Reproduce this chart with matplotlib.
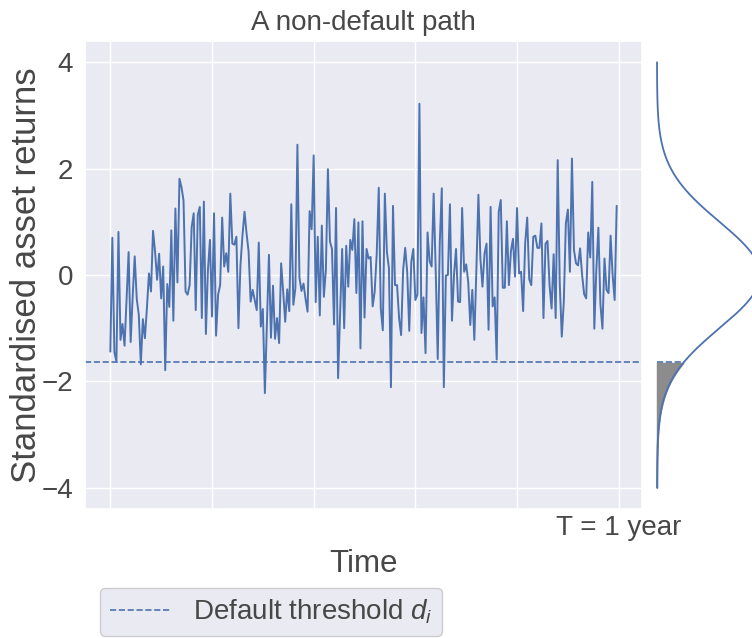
import numpy as np
import matplotlib
matplotlib.use("Agg")
import matplotlib.pyplot as plt
import seaborn as sns

# ---- data ----
returns = [
    -1.44, 0.70, -1.45, -1.63, 0.81, -1.22, -0.92, -1.33, -0.45, 0.43,
    -1.26, -0.40, 0.35, -0.45, -0.75, -1.68, -0.83, -1.19, -0.62, 0.03,
    -0.31, 0.83, 0.44, -0.09, 0.40, -0.44, 0.16, -1.79, -0.17, -0.60,
    0.84, -0.86, 1.25, -0.14, 1.81, 1.65, 1.40, -0.31, -0.37, -0.19,
    0.90, 1.16, -0.66, 1.13, 1.28, -0.81, 1.38, -1.11, 0.10, 0.66,
    -0.78, 1.16, -1.14, -0.37, -0.19, 1.08, 0.16, 0.41, 0.06, 1.53,
    0.59, 0.57, 0.72, -1.00, 0.19, 0.75, 1.19, 0.78, 0.44, -0.50,
    -0.28, -0.47, -0.66, 0.61, -0.97, -0.64, -2.22, -0.90, 0.38, -1.18,
    -0.20, -1.20, -0.81, -1.28, 0.22, -0.31, -0.88, -0.27, -0.68, 1.33,
    -0.56, -0.25, 2.45, -0.05, -0.30, -0.16, -0.45, -0.69, 1.20, 0.86,
    2.25, -0.51, 0.72, -0.76, 0.93, -0.41, 0.10, 1.99, 0.63, 0.49,
    -0.93, 1.26, -1.94, -0.70, 0.49, -1.00, 0.55, -0.22, 0.66, 0.47,
    1.05, -0.34, 0.99, -1.38, 1.01, -0.80, 0.49, 0.31, 0.34, -0.59,
    -0.31, 0.40, 1.64, -0.63, -1.04, 1.53, 0.44, 0.13, -2.11, 1.30,
    -0.19, -0.19, -0.81, -1.13, 0.10, 0.51, 0.05, -1.05, 0.25, 0.49,
    -0.47, -0.37, 3.22, -1.09, -0.42, -1.47, 0.80, 0.26, 0.16, 1.53,
    0.10, -1.58, 0.60, 1.63, -2.11, -0.01, 0.00, 1.33, -0.86, 0.00,
    0.49, -0.50, -0.51, 1.26, 0.06, 0.20, -0.13, -0.94, -0.28, -1.22,
    0.10, 1.51, 0.30, -0.22, 0.40, 0.59, -1.03, 1.28, -0.59, -0.42,
    -1.59, 1.19, 1.41, -0.24, -0.24, 1.01, -0.19, 0.45, 0.68, -0.03,
    1.26, 0.03, 0.06, -0.68, 0.60, 1.08, -0.08, -0.19, 0.72, 0.74,
    0.51, 0.51, 0.97, -0.81, 0.59, 0.64, -0.20, -0.63, 0.39, -0.81,
    2.16, -0.15, -1.16, -0.50, 0.97, 1.23, 0.06, 2.19, 0.47, 0.22,
    0.18, 0.50, 0.00, -0.36, -0.44, 0.80, 0.33, 1.75, -1.01, 0.10,
    0.89, -0.55, -1.01, 0.31, -0.28, -0.34, 0.74, 0.00, -0.47, 1.30,
]
threshold = -1.645
xtick_pos = [0, 50, 100, 150, 200, 250]
xtick_labels = ["", "", "", "", "", "T = 1 year"]
ytick_pos = [-4, -2, 0, 2, 4]

sns.set_theme(style="darkgrid")
plt.rcParams["font.family"] = ["Liberation Sans", "DejaVu Sans"]
plt.rcParams["mathtext.fontset"] = "custom"
plt.rcParams["mathtext.it"] = "Liberation Sans:italic"
plt.rcParams["mathtext.rm"] = "Liberation Sans"

blue = "#4c72b0"
tc = "0.28"
W, H = 752, 638
fig = plt.figure(figsize=(W / 100, H / 100), dpi=100)

ax = fig.add_axes([85 / W, 1 - 509 / H, (642 - 85) / W, (509 - 41) / H])
x = np.arange(len(returns))
ax.plot(x, returns, color=blue, lw=1.4)
ax.axhline(threshold, ls="--", lw=1.2, color=blue, label=r"Default threshold $d_i$")
ax.set_ylim(-4.4, 4.4)
ax.set_xticks(xtick_pos)
ax.set_xticklabels(xtick_labels)
ax.set_yticks(ytick_pos)
ax.tick_params(axis="both", length=0, labelsize=20, colors=tc)
ax.tick_params(axis="y", pad=8.5)
ax.tick_params(axis="x", pad=4)
ax.set_xlabel("Time", fontsize=22.5, color=tc, labelpad=6)
ax.set_ylabel("Standardised asset returns", fontsize=25, color=tc, labelpad=-1)
ax.set_title("A non-default path", fontsize=20, color=tc, pad=8)

leg = fig.legend(handles=ax.get_lines()[1:], loc="upper left",
                 bbox_to_anchor=(86 / W, 1 - 574 / H), fontsize=20,
                 facecolor="#EAEAF2", edgecolor="0.8", framealpha=1,
                 handlelength=2.2, borderpad=0.35)
for t in leg.get_texts():
    t.set_color(tc)

# density panel
ax2 = fig.add_axes([642 / W, 1 - 509 / H, (W - 642) / W, (509 - 41) / H])
ys = np.linspace(-4, 4, 400)
pdf = np.exp(-ys ** 2 / 2) / np.sqrt(2 * np.pi)
ax2.plot(pdf, ys, color=blue, lw=1.3)
mask = ys <= threshold
ax2.fill_betweenx(ys[mask], 0, pdf[mask], color="#8c8c8c")
pd_thr = np.exp(-threshold ** 2 / 2) / np.sqrt(2 * np.pi)
ax2.plot([0, pd_thr], [threshold, threshold], ls="--", lw=1.2, color=blue)
ax2.set_ylim(-4.4, 4.4)
ax2.set_xlim(-0.058, 0.368)
ax2.axis("off")

fig.savefig("out.png", dpi=100)
